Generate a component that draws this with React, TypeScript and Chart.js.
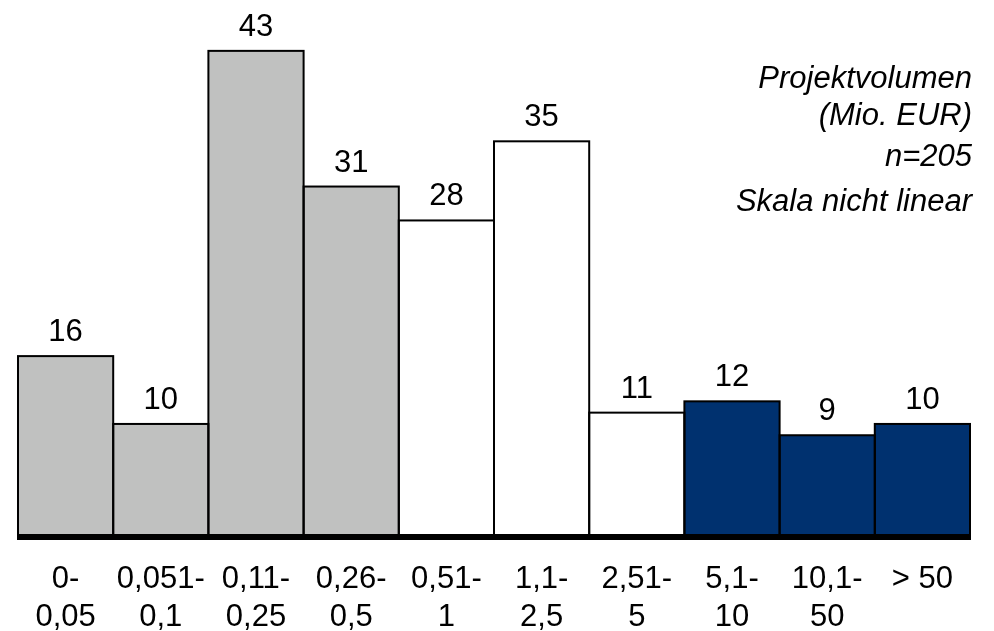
import React, { useEffect, useRef } from "react";
import { Chart, registerables } from "chart.js";

Chart.register(...registerables);

// Volume classes (Mio. EUR), two-line tick labels
const categories: (string | string[])[] = [
  ["0-", "0,05"],
  ["0,051-", "0,1"],
  ["0,11-", "0,25"],
  ["0,26-", "0,5"],
  ["0,51-", "1"],
  ["1,1-", "2,5"],
  ["2,51-", "5"],
  ["5,1-", "10"],
  ["10,1-", "50"],
  "> 50",
];

// Number of projects per volume class
const projectCounts: number[] = [16, 10, 43, 31, 28, 35, 11, 12, 9, 10];

// Size group of each class
const sizeGroups: string[] = [
  "small", "small", "small", "small",
  "medium", "medium", "medium",
  "large", "large", "large",
];

const groupColors: Record<string, string> = {
  small: "#c0c1c0",
  medium: "#ffffff",
  large: "#00316f",
};

const noteLines: string[] = ["Projektvolumen", "(Mio. EUR)", "n=205", "Skala nicht linear"];

const FONT_FAMILY = "'Liberation Sans', Arial, Helvetica, sans-serif";
const FONT_SIZE = 31;

// Thin outlines around each bar, shared edges stay one line wide
const barOutlinePlugin = {
  id: "barOutline",
  afterDatasetsDraw(chart: any) {
    const { ctx } = chart;
    const meta = chart.getDatasetMeta(0);
    ctx.save();
    ctx.strokeStyle = "#000";
    ctx.lineWidth = 2;
    meta.data.forEach((bar: any) => {
      const { x, y, base, width } = bar.getProps(["x", "y", "base", "width"], true);
      ctx.strokeRect(x - width / 2, y, width, base - y);
    });
    ctx.restore();
  },
};

// Heavy baseline at zero
const baselinePlugin = {
  id: "baseline",
  afterDatasetsDraw(chart: any) {
    const { ctx, chartArea } = chart;
    const y0 = chart.scales.y.getPixelForValue(0);
    ctx.save();
    ctx.strokeStyle = "#000";
    ctx.lineWidth = 6;
    ctx.beginPath();
    ctx.moveTo(chartArea.left - 1, y0);
    ctx.lineTo(chartArea.right + 1, y0);
    ctx.stroke();
    ctx.restore();
  },
};

// Value above each bar
const valueLabelPlugin = {
  id: "valueLabels",
  afterDraw(chart: any) {
    const { ctx } = chart;
    const meta = chart.getDatasetMeta(0);
    const values = chart.data.datasets[0].data as number[];
    ctx.save();
    ctx.fillStyle = "#000";
    ctx.font = `${FONT_SIZE}px ${FONT_FAMILY}`;
    ctx.textAlign = "center";
    ctx.textBaseline = "alphabetic";
    meta.data.forEach((bar: any, i: number) => {
      const { x, y } = bar.getProps(["x", "y"], true);
      ctx.fillText(String(values[i]), x, y - 15);
    });
    ctx.restore();
  },
};

// Italic note in the upper right corner
const notePlugin = {
  id: "note",
  afterDraw(chart: any) {
    const { ctx, chartArea } = chart;
    const baselines = [88, 125, 166, 211];
    ctx.save();
    ctx.fillStyle = "#000";
    ctx.font = `italic ${FONT_SIZE}px ${FONT_FAMILY}`;
    ctx.textAlign = "right";
    ctx.textBaseline = "alphabetic";
    noteLines.forEach((line, i) => {
      ctx.fillText(line, chartArea.right + 2, baselines[i]);
    });
    ctx.restore();
  },
};

export default function App() {
  const canvasRef = useRef<HTMLCanvasElement | null>(null);

  useEffect(() => {
    const canvas = canvasRef.current;
    if (!canvas) return;
    const chart = new Chart(canvas, {
      type: "bar",
      data: {
        labels: categories,
        datasets: [
          {
            data: projectCounts,
            backgroundColor: sizeGroups.map((g) => groupColors[g]),
            borderWidth: 0,
            barPercentage: 1,
            categoryPercentage: 1,
          },
        ],
      },
      options: {
        responsive: false,
        animation: false,
        devicePixelRatio: 1,
        layout: { padding: { left: 18, right: 24, top: 0, bottom: 0 } },
        plugins: {
          legend: { display: false },
          tooltip: { enabled: false },
          title: { display: false },
        },
        scales: {
          x: {
            grid: { display: false, drawTicks: false },
            border: { display: false },
            ticks: {
              color: "#000",
              padding: 23,
              maxRotation: 0,
              autoSkip: false,
              font: { family: FONT_FAMILY, size: FONT_SIZE, lineHeight: 1.24 },
            },
            afterFit: (scale: any) => {
              scale.height = 94;
            },
          },
          y: {
            display: false,
            min: 0,
            max: 47.5,
          },
        },
      },
      plugins: [barOutlinePlugin, baselinePlugin, valueLabelPlugin, notePlugin],
    });
    return () => chart.destroy();
  }, []);

  return (
    <div
      style={{
        position: "fixed",
        left: 0,
        top: 0,
        width: 994,
        height: 631,
        background: "#ffffff",
      }}
    >
      <canvas ref={canvasRef} width={994} height={631} style={{ width: 994, height: 631, display: "block" }} />
    </div>
  );
}
